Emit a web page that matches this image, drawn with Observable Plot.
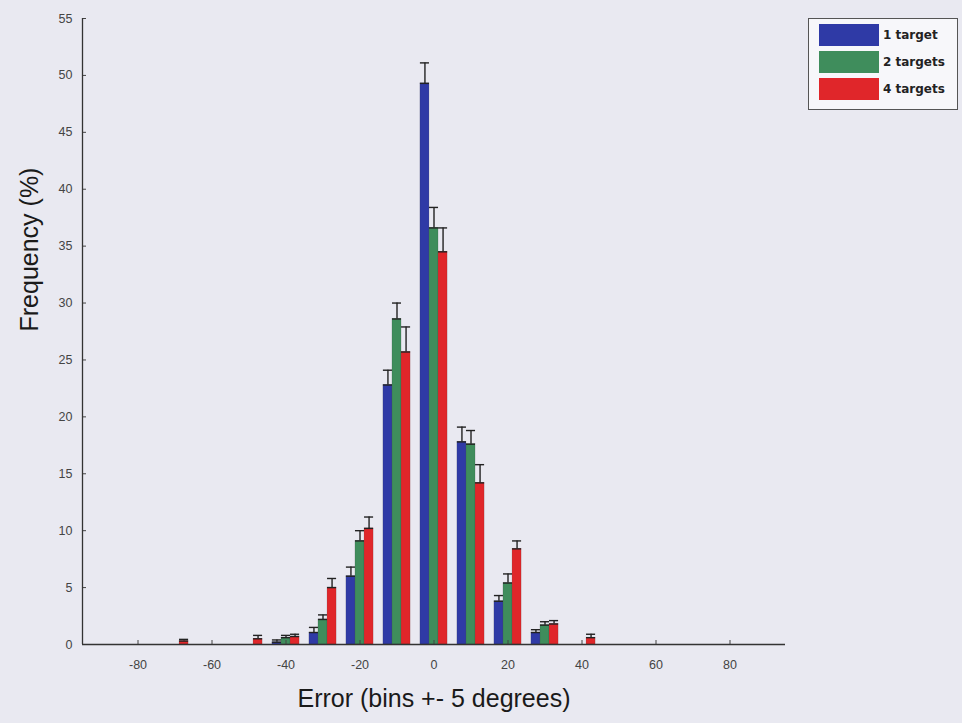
<!DOCTYPE html>
<html>
<head>
<meta charset="utf-8">
<script src="https://cdn.jsdelivr.net/npm/d3@7"></script>
<script src="https://cdn.jsdelivr.net/npm/@observablehq/plot@0.6"></script>
<style>
  html, body { margin: 0; padding: 0; background: #e9e9f1; }
  #wrap { position: relative; width: 962px; height: 723px; }
  #legend {
    position: absolute; left: 808px; top: 18px; width: 150px; height: 92px;
    background: #f7f7fa; border: 1px solid #555; box-sizing: border-box;
    font-family: "DejaVu Sans", sans-serif; font-weight: bold; font-size: 12px; color: #222;
  }
  #legend .row { position: absolute; left: 10px; height: 22px; display: flex; align-items: center; }
  #legend .sw { width: 60px; height: 22px; margin-right: 4px; box-sizing: border-box; }
</style>
</head>
<body>
<div id="wrap"><div id="legend"></div></div>
<script>
// Error histogram: frequency (%) per 10-degree bin for each target-count condition
const bins = [-90, -80, -70, -60, -50, -40, -30, -20, -10, 0, 10, 20, 30, 40, 50, 60, 70, 80, 90];
const series = ["1 target", "2 targets", "4 targets"];
const colors = ["#2f3aa6", "#3f8d5c", "#e0262a"];

const oneTarget   = [0, 0, 0,   0, 0,   0.2, 1.05, 6.0, 22.8, 49.3, 17.8, 3.8, 1.05, 0,   0, 0, 0, 0, 0];
const twoTargets  = [0, 0, 0,   0, 0,   0.6, 2.2,  9.1, 28.6, 36.6, 17.6, 5.4, 1.7,  0,   0, 0, 0, 0, 0];
const fourTargets = [0, 0, 0.3, 0, 0.5, 0.7, 5.0, 10.2, 25.7, 34.5, 14.2, 8.4, 1.8,  0.6, 0, 0, 0, 0, 0];

const oneErr   = [0, 0, 0,    0, 0,   0.2, 0.45, 0.8, 1.3, 1.8, 1.3, 0.5, 0.25, 0,   0, 0, 0, 0, 0];
const twoErr   = [0, 0, 0,    0, 0,   0.2, 0.4,  0.9, 1.4, 1.8, 1.2, 0.8, 0.3,  0,   0, 0, 0, 0, 0];
const fourErr  = [0, 0, 0.15, 0, 0.3, 0.2, 0.8,  1.0, 2.2, 2.1, 1.6, 0.7, 0.3,  0.3, 0, 0, 0, 0, 0];

const xTicks = [-80, -60, -40, -20, 0, 20, 40, 60, 80];
const yTicks = d3.range(0, 56, 5);

// grouped layout inside each 10-degree bin
const barW = 2.45;
const values = [oneTarget, twoTargets, fourTargets];
const errs = [oneErr, twoErr, fourErr];

const rows = [];
series.forEach((s, i) => {
  bins.forEach((b, j) => {
    const c = b + (i - 1) * barW;
    rows.push({series: s, bin: b, v: values[i][j], e: errs[i][j],
               x1: c - barW / 2, x2: c + barW / 2, xc: c});
  });
});
const shown = rows.filter(d => d.v > 0);
const withErr = shown.filter(d => d.e > 0);
const plain = d => String(d);

const chart = Plot.plot({
  width: 962,
  height: 723,
  marginLeft: 82,
  marginTop: 18,
  marginBottom: 79,
  marginRight: 177,
  style: {background: "transparent", fontFamily: "Liberation Sans, Arial, sans-serif"},
  x: {domain: [-95, 95]},
  y: {domain: [0, 55]},
  color: {domain: series, range: colors},
  marks: [
    Plot.rectY(shown, {x1: "x1", x2: "x2", y1: 0, y2: "v", fill: "series", stroke: "#333", strokeOpacity: 0.25, strokeWidth: 0.6}),
    // error bars: stem and caps
    Plot.ruleX(withErr, {x: "xc", y1: "v", y2: d => d.v + d.e, stroke: "#222", strokeWidth: 1.4}),
    Plot.ruleY(withErr, {y: d => d.v + d.e, x1: "x1", x2: "x2", stroke: "#222", strokeWidth: 1.4}),
    Plot.ruleY(withErr, {y: "v", x1: "x1", x2: "x2", stroke: "#222", strokeWidth: 1.4}),
    Plot.axisY(yTicks, {tickSize: -4, tickPadding: 14, fontSize: 12.5, color: "#444", label: null, tickFormat: plain}),
    Plot.axisX(xTicks, {tickSize: -4, tickPadding: 20, fontSize: 12.5, color: "#444", label: null, tickFormat: plain}),
    Plot.ruleX([-95], {stroke: "#333", strokeWidth: 1.3}),
    Plot.ruleY([0], {stroke: "#333", strokeWidth: 1.3}),
    Plot.text(["Frequency (%)"], {frameAnchor: "left", dx: -53, rotate: -90, fontSize: 25, fill: "#1a1a1a"}),
    Plot.text(["Error (bins +- 5 degrees)"], {frameAnchor: "bottom", dy: 62, fontSize: 25, fill: "#1a1a1a"})
  ]
});
document.getElementById("wrap").prepend(chart);

// legend box
const legend = document.getElementById("legend");
series.forEach((s, i) => {
  const row = document.createElement("div");
  row.className = "row";
  row.style.top = (5 + i * 27) + "px";
  const sw = document.createElement("div");
  sw.className = "sw";
  sw.style.background = colors[i];
  const t = document.createElement("span");
  t.textContent = s;
  row.appendChild(sw);
  row.appendChild(t);
  legend.appendChild(row);
});
</script>
</body>
</html>
